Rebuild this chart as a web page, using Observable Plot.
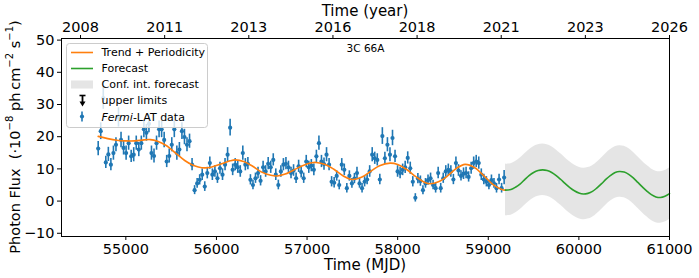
<!DOCTYPE html>
<html><head><meta charset="utf-8">
<script src="https://cdn.jsdelivr.net/npm/d3@7"></script>
<script src="https://cdn.jsdelivr.net/npm/@observablehq/plot@0.6"></script>
<style>body{margin:0;background:#fff;} #chart{position:relative;width:699px;height:278px;}</style>
</head><body><div id="chart"></div>
<script>
// ---- data ----
const mjd = [54695,54723,54751,54779,54807,54835,54863,54891,54919,54947,
54975,55003,55031,55059,55087,55115,55143,55171,55199,55227,
55255,55283,55311,55339,55367,55395,55423,55451,55479,55507,
55535,55563,55591,55619,55647,55675,55703,55731,55759,55787,
55815,55843,55871,55899,55927,55955,55983,56011,56039,56067,
56095,56123,56151,56179,56207,56235,56263,56291,56319,56347,
56375,56403,56431,56459,56487,56515,56543,56571,56599,56627,
56655,56683,56711,56739,56767,56795,56823,56851,56879,56907,
56935,56963,56991,57019,57047,57075,57103,57131,57159,57187,
57215,57243,57271,57299,57327,57355,57383,57411,57439,57467,
57495,57523,57551,57579,57607,57635,57663,57691,57719,57747,
57775,57803,57831,57859,57887,57915,57943,57971,57999,58027,
58055,58083,58111,58139,58167,58195,58223,58251,58279,58307,
58335,58363,58391,58419,58447,58475,58503,58531,58559,58587,
58615,58643,58671,58699,58727,58755,58783,58811,58839,58867,
58895,58923,58951,58979,59007,59035,59063,59091,59119,59147,59175];
const flux = [16.3,21.7,32.0,12.0,14.5,11.3,14.9,17.5,26.0,19.0,
16.5,14.9,18.0,13.9,14.4,18.0,16.0,18.0,22.3,21.2,
24.0,14.9,14.0,18.0,22.3,22.3,19.0,12.3,14.0,17.5,
22.3,14.9,16.0,21.7,19.9,17.5,18.6,11.3,3.4,5.5,
6.6,8.2,4.5,8.7,11.8,8.2,9.2,7.1,10.2,8.2,
11.3,14.4,22.8,9.7,11.3,10.5,9.2,14.9,11.3,11.6,
6.6,5.0,7.1,8.7,6.3,10.5,9.2,11.6,10.5,12.8,
8.2,5.0,9.2,11.3,11.6,10.5,8.7,9.5,7.1,10.8,
9.0,7.1,12.3,10.5,11.0,9.7,13.9,18.0,12.3,11.5,
14.4,11.3,6.0,5.7,7.8,5.0,11.3,9.7,4.0,7.8,
5.5,7.0,8.7,5.5,4.0,6.0,6.7,9.2,14.4,13.3,
12.8,6.7,20.2,13.3,17.5,14.4,19.6,13.9,9.2,8.7,
9.7,10.5,13.4,10.2,6.0,1.0,7.0,6.2,3.4,5.5,
6.5,7.1,5.0,4.0,8.7,4.0,7.1,9.2,9.7,9.2,
6.7,11.8,9.5,7.8,8.5,8.7,7.5,10.2,11.8,12.3,
11.8,8.2,6.7,6.0,5.0,6.5,5.5,4.0,6.7,4.0,7.3];
const fluxErr = [2.2,2.6,3.5,1.9,2.2,1.9,2.2,2.2,3.0,2.4,
2.2,2.2,2.2,1.9,2.2,2.2,2.2,2.2,2.6,2.6,
2.8,2.2,2.2,2.2,2.6,2.6,2.4,1.9,2.2,2.2,
2.6,2.2,2.2,2.6,2.4,2.2,2.2,1.9,1.4,1.5,
1.6,1.8,1.5,1.8,1.9,1.8,1.8,1.6,1.9,1.8,
1.9,2.2,2.6,1.8,1.9,1.9,1.8,2.2,1.9,1.9,
1.6,1.5,1.6,1.8,1.6,1.9,1.8,1.9,1.9,1.9,
1.8,1.5,1.8,1.9,1.9,1.9,1.8,1.8,1.6,1.9,
1.8,1.6,1.9,1.9,1.9,1.8,1.9,2.2,1.9,1.9,
2.2,1.9,1.6,1.6,1.6,1.5,1.9,1.8,1.5,1.6,
1.5,1.6,1.8,1.5,1.5,1.6,1.6,1.8,2.2,1.9,
1.9,1.6,2.6,1.9,2.2,2.2,2.4,1.9,1.8,1.8,
1.8,1.9,1.9,1.9,1.6,1.3,1.6,1.6,1.4,1.5,
1.6,1.6,1.5,1.5,1.8,1.5,1.6,1.8,1.8,1.8,
1.6,1.9,1.8,1.6,1.8,1.8,1.6,1.9,1.9,1.9,
1.9,1.8,1.6,1.6,1.5,1.6,1.5,1.5,1.6,1.5,2.2];

const trendMjd = [54695,54800,54900,55000,55100,55200,55270,55350,55450,55550,55650,55730,55800,55870,55950,56050,56150,56210,56300,56400,56500,56600,56670,56750,56850,56950,57050,57100,57200,57300,57400,57495,57600,57700,57800,57917,58000,58100,58200,58300,58360,58450,58550,58650,58744,58850,58950,59050,59150,59190];
const trendFlux = [20.1,19.4,18.9,18.7,18.7,19.0,19.1,18.6,17.2,14.9,12.6,11.3,10.6,10.3,10.6,11.5,12.5,12.8,12.3,10.8,9.0,8.0,7.8,8.3,9.6,11.0,11.9,12.0,11.4,9.8,7.8,6.7,7.4,9.2,11.0,11.8,11.4,9.8,7.6,5.8,5.4,6.0,7.8,10.2,11.4,10.4,7.9,5.2,3.6,3.4];

const forecastMjd = [59190,59250,59300,59350,59400,59450,59500,59550,59600,59650,59700,59750,59800,59850,59900,59950,60000,60050,60100,60150,60200,60250,60300,60350,60400,60450,60500,60550,60600,60650,60700,60750,60800,60850,60900,60950,61000];
const forecastFlux = [3.4,3.6,4.3,5.3,6.6,7.9,8.9,9.5,9.7,9.5,8.9,7.9,6.7,5.4,4.2,3.2,2.5,2.2,2.4,3.0,4.1,5.4,6.8,8.0,8.9,9.2,9.0,8.3,7.2,5.8,4.4,3.1,2.0,1.3,1.1,1.5,2.3];
const bandHigh = [11.4,11.6,12.3,13.3,14.6,15.9,16.9,17.5,17.7,17.5,16.9,15.9,14.7,13.4,12.2,11.2,10.5,10.2,10.4,11.0,12.1,13.4,14.8,16.0,16.9,17.2,17.0,16.3,15.2,13.8,12.4,11.1,10.0,9.3,9.1,9.5,10.3];
const bandLow = [-4.6,-4.4,-3.7,-2.7,-1.4,-0.1,0.9,1.5,1.7,1.5,0.9,-0.1,-1.3,-2.6,-3.8,-4.8,-5.5,-5.8,-5.6,-5.0,-3.9,-2.6,-1.2,0.0,0.9,1.2,1.0,0.3,-0.8,-2.2,-3.6,-4.9,-6.0,-6.7,-6.9,-6.5,-5.7];

const xTicks = [55000,56000,57000,58000,59000,60000,61000];
const yTicks = [-10,0,10,20,30,40,50];
const yearTickMjd = [54500,55428.571,56357.143,57285.714,58214.286,59142.857,60071.429,61000];
const yearTickLabels = ["2008","2011","2013","2016","2018","2021","2023","2026"];
const titleText = ["3C 66A"];
const legendLabels = ["Trend + Periodicity","Forecast","Conf. int. forecast","upper limits","Fermi-LAT data"];

// ---- tables ----
const points = mjd.map((t,i)=>({t, v:flux[i], e:fluxErr[i]}));
const trend = trendMjd.map((t,i)=>({t, v:trendFlux[i]}));
const forecast = forecastMjd.map((t,i)=>({t, v:forecastFlux[i], lo:bandLow[i], hi:bandHigh[i]}));
const yearMap = new Map(yearTickMjd.map((d,i)=>[d, yearTickLabels[i]]));

const BLUE="#1f77b4", ORANGE="#ff7f0e", GREEN="#2ca02c";
const FONT="DejaVu Sans, sans-serif";

const svg = Plot.plot({
  width:699, height:278,
  marginLeft:61, marginRight:30, marginTop:38, marginBottom:42,
  style:{fontFamily:FONT, fontSize:"14.5px", background:"white", color:"black", overflow:"visible"},
  x:{domain:[54290,61000], label:null},
  y:{domain:[-11,50.5], label:null},
  marks:[
    Plot.areaY(forecast,{x:"t", y1:"lo", y2:"hi", fill:"#d3d3d3", fillOpacity:0.6, curve:"catmull-rom"}),
    Plot.ruleX(points,{x:"t", y1:d=>d.v-d.e, y2:d=>d.v+d.e, stroke:BLUE, strokeWidth:1.6}),
    Plot.dot(points,{x:"t", y:"v", r:2.1, fill:BLUE, stroke:null}),
    Plot.line(trend,{x:"t", y:"v", stroke:ORANGE, strokeWidth:1.6, curve:"catmull-rom"}),
    Plot.line(forecast,{x:"t", y:"v", stroke:GREEN, strokeWidth:1.6, curve:"catmull-rom"}),
    Plot.text(titleText,{text:d=>d, frameAnchor:"top", dy:10, fontSize:10.5, lineAnchor:"middle", fill:"black"}),
    Plot.frame({stroke:"black", strokeWidth:1}),
    Plot.axisX({anchor:"bottom", ticks:xTicks, tickFormat:d=>String(d), tickSize:4, tickPadding:3, label:null}),
    Plot.axisX({anchor:"top", ticks:yearTickMjd, tickFormat:d=>yearMap.get(d), tickSize:4, tickPadding:3, label:null}),
    Plot.axisY({anchor:"left", ticks:yTicks, tickFormat:d=>d<0?"\u2212"+Math.abs(d):String(d), tickSize:4, tickPadding:3, label:null})
  ]
});
document.getElementById("chart").appendChild(svg);

const s = d3.select(svg);
// axis labels
s.append("text").attr("x",365).attr("y",11).attr("text-anchor","middle").attr("dominant-baseline","central")
  .style("font-family",FONT).style("font-size","15px").attr("fill","black").text("Time (year)");
s.append("text").attr("x",365).attr("y",265).attr("text-anchor","middle").attr("dominant-baseline","central")
  .style("font-family",FONT).style("font-size","15px").attr("fill","black").text("Time (MJD)");
const yl = s.append("text").attr("transform","translate(15,137) rotate(-90)").attr("text-anchor","middle")
  .attr("dominant-baseline","central").style("font-family",FONT).style("font-size","14.5px")
  .style("white-space","pre").attr("fill","black");
const parts = [["Photon Flux  (\u00b710",0],["\u22128",1],[" ph\u2009cm",0],["\u22122",1],[" s",0],["\u22121",1],[")",0]];
let prevSup=false;
parts.forEach(([t,sup])=>{
  const ts = yl.append("tspan").text(t);
  if(sup){ts.attr("dy",-6).style("font-size","10px");}
  else if(prevSup){ts.attr("dy",6);}
  prevSup=!!sup;
});

// legend
const lg = s.append("g").style("font-family",FONT).style("font-size","11px").attr("text-anchor","start");
lg.append("rect").attr("x",66.5).attr("y",43.5).attr("width",141).attr("height",84).attr("rx",3)
  .attr("fill","white").attr("fill-opacity",0.8).attr("stroke","#cccccc");
const rowsY=[52.5,68.5,84.5,100.5,116.5];
lg.append("line").attr("x1",71).attr("x2",93).attr("y1",rowsY[0]).attr("y2",rowsY[0]).attr("stroke",ORANGE).attr("stroke-width",1.6);
lg.append("line").attr("x1",71).attr("x2",93).attr("y1",rowsY[1]).attr("y2",rowsY[1]).attr("stroke",GREEN).attr("stroke-width",1.6);
lg.append("rect").attr("x",71).attr("y",rowsY[2]-4).attr("width",22).attr("height",8).attr("fill","#d3d3d3").attr("fill-opacity",0.6);
lg.append("line").attr("x1",79.5).attr("x2",85.5).attr("y1",rowsY[3]-5).attr("y2",rowsY[3]-5).attr("stroke","black").attr("stroke-width",1.6);
lg.append("line").attr("x1",82.5).attr("x2",82.5).attr("y1",rowsY[3]-5).attr("y2",rowsY[3]+2).attr("stroke","black").attr("stroke-width",1.8);
lg.append("path").attr("d",`M79.5,${rowsY[3]+1}L85.5,${rowsY[3]+1}L82.5,${rowsY[3]+6}Z`).attr("fill","black");
lg.append("line").attr("x1",82).attr("x2",82).attr("y1",rowsY[4]-5).attr("y2",rowsY[4]+5).attr("stroke",BLUE).attr("stroke-width",1.6);
lg.append("circle").attr("cx",82).attr("cy",rowsY[4]).attr("r",2.1).attr("fill",BLUE);
legendLabels.forEach((t,i)=>{
  const tx = lg.append("text").attr("x",101.5).attr("y",rowsY[i]).attr("text-anchor","start")
    .attr("dominant-baseline","central").attr("fill","black");
  if(i===4){
    tx.append("tspan").style("font-style","italic").text("Fermi");
    tx.append("tspan").text("-LAT data");
  } else tx.text(t);
});
</script>
</body></html>
